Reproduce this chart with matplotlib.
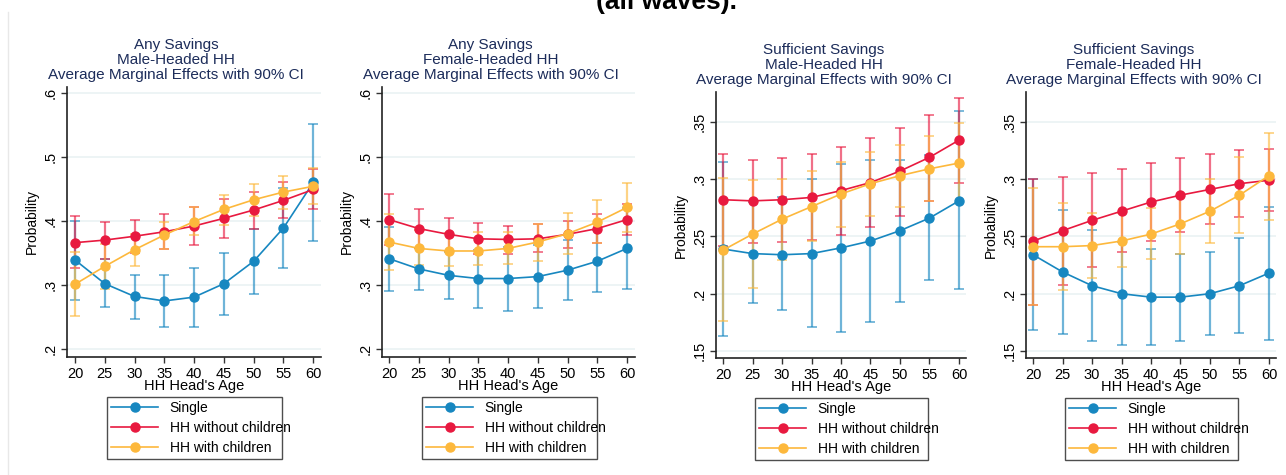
import matplotlib
matplotlib.use("Agg")
import matplotlib.pyplot as plt
from matplotlib.lines import Line2D

plt.rcParams['font.family'] = ['Liberation Sans', 'DejaVu Sans']

# x axis: age of the household head
ages = [20, 25, 30, 35, 40, 45, 50, 55, 60]
series_names = ["Single", "HH without children", "HH with children"]
colors = ["#1787c0", "#e8193f", "#fdb83c"]

# Any Savings, Male-Headed HH
am_single = [0.339, 0.302, 0.282, 0.275, 0.281, 0.302, 0.337, 0.389, 0.460]
am_single_lo = [0.277, 0.266, 0.247, 0.234, 0.235, 0.253, 0.286, 0.326, 0.369]
am_single_hi = [0.400, 0.340, 0.316, 0.316, 0.327, 0.350, 0.388, 0.452, 0.551]
am_nokids = [0.366, 0.370, 0.376, 0.383, 0.392, 0.404, 0.417, 0.432, 0.449]
am_nokids_lo = [0.327, 0.341, 0.350, 0.356, 0.363, 0.374, 0.388, 0.405, 0.419]
am_nokids_hi = [0.407, 0.399, 0.402, 0.411, 0.422, 0.434, 0.445, 0.460, 0.481]
am_kids = [0.301, 0.329, 0.355, 0.378, 0.399, 0.418, 0.433, 0.445, 0.454]
am_kids_lo = [0.251, 0.294, 0.330, 0.356, 0.378, 0.394, 0.408, 0.419, 0.426]
am_kids_hi = [0.351, 0.364, 0.379, 0.399, 0.422, 0.440, 0.457, 0.470, 0.483]

# Any Savings, Female-Headed HH
af_single = [0.341, 0.325, 0.315, 0.310, 0.310, 0.313, 0.323, 0.337, 0.357]
af_single_lo = [0.291, 0.292, 0.278, 0.264, 0.259, 0.264, 0.276, 0.289, 0.293]
af_single_hi = [0.390, 0.358, 0.352, 0.355, 0.360, 0.363, 0.370, 0.385, 0.420]
af_nokids = [0.402, 0.388, 0.379, 0.372, 0.371, 0.372, 0.379, 0.388, 0.402]
af_nokids_lo = [0.362, 0.357, 0.353, 0.349, 0.349, 0.351, 0.357, 0.366, 0.378]
af_nokids_hi = [0.442, 0.419, 0.404, 0.396, 0.392, 0.395, 0.400, 0.410, 0.426]
af_kids = [0.367, 0.357, 0.353, 0.353, 0.357, 0.367, 0.380, 0.398, 0.421]
af_kids_lo = [0.323, 0.331, 0.330, 0.331, 0.333, 0.337, 0.348, 0.366, 0.383]
af_kids_hi = [0.410, 0.385, 0.381, 0.383, 0.383, 0.395, 0.412, 0.433, 0.459]

# Sufficient Savings, Male-Headed HH
sm_single = [0.239, 0.235, 0.234, 0.235, 0.240, 0.246, 0.255, 0.266, 0.281]
sm_single_lo = [0.163, 0.192, 0.186, 0.171, 0.167, 0.175, 0.193, 0.212, 0.204]
sm_single_hi = [0.315, 0.280, 0.284, 0.300, 0.313, 0.317, 0.317, 0.321, 0.359]
sm_nokids = [0.282, 0.281, 0.282, 0.284, 0.290, 0.297, 0.307, 0.319, 0.334]
sm_nokids_lo = [0.242, 0.244, 0.245, 0.247, 0.251, 0.258, 0.268, 0.281, 0.297]
sm_nokids_hi = [0.322, 0.317, 0.318, 0.322, 0.328, 0.336, 0.345, 0.356, 0.371]
sm_kids = [0.238, 0.252, 0.265, 0.276, 0.287, 0.296, 0.303, 0.309, 0.314]
sm_kids_lo = [0.176, 0.205, 0.229, 0.246, 0.258, 0.268, 0.276, 0.281, 0.279]
sm_kids_hi = [0.301, 0.299, 0.300, 0.307, 0.315, 0.324, 0.330, 0.338, 0.349]

# Sufficient Savings, Female-Headed HH
sf_single = [0.234, 0.219, 0.207, 0.200, 0.197, 0.197, 0.200, 0.207, 0.218]
sf_single_lo = [0.168, 0.165, 0.159, 0.155, 0.155, 0.159, 0.164, 0.166, 0.160]
sf_single_hi = [0.300, 0.273, 0.256, 0.245, 0.239, 0.235, 0.236, 0.249, 0.276]
sf_nokids = [0.246, 0.255, 0.264, 0.272, 0.280, 0.286, 0.291, 0.296, 0.299]
sf_nokids_lo = [0.190, 0.208, 0.223, 0.236, 0.246, 0.254, 0.261, 0.267, 0.272]
sf_nokids_hi = [0.300, 0.302, 0.305, 0.309, 0.314, 0.318, 0.322, 0.325, 0.326]
sf_kids = [0.241, 0.241, 0.242, 0.246, 0.252, 0.261, 0.272, 0.286, 0.303]
sf_kids_lo = [0.190, 0.203, 0.214, 0.223, 0.230, 0.235, 0.244, 0.253, 0.264]
sf_kids_hi = [0.292, 0.279, 0.270, 0.270, 0.275, 0.285, 0.300, 0.319, 0.340]

titles = [
    "Any Savings\nMale-Headed HH\nAverage Marginal Effects with 90% CI",
    "Any Savings\nFemale-Headed HH\nAverage Marginal Effects with 90% CI",
    "Sufficient Savings\nMale-Headed HH\nAverage Marginal Effects with 90% CI",
    "Sufficient Savings\nFemale-Headed HH\nAverage Marginal Effects with 90% CI",
]
any_ticks = [0.2, 0.3, 0.4, 0.5, 0.6]
any_labels = [".2", ".3", ".4", ".5", ".6"]
suf_ticks = [0.15, 0.2, 0.25, 0.3, 0.35]
suf_labels = [".15", ".2", ".25", ".3", ".35"]

panels = [
    [(am_single, am_single_lo, am_single_hi), (am_nokids, am_nokids_lo, am_nokids_hi), (am_kids, am_kids_lo, am_kids_hi)],
    [(af_single, af_single_lo, af_single_hi), (af_nokids, af_nokids_lo, af_nokids_hi), (af_kids, af_kids_lo, af_kids_hi)],
    [(sm_single, sm_single_lo, sm_single_hi), (sm_nokids, sm_nokids_lo, sm_nokids_hi), (sm_kids, sm_kids_lo, sm_kids_hi)],
    [(sf_single, sf_single_lo, sf_single_hi), (sf_nokids, sf_nokids_lo, sf_nokids_hi), (sf_kids, sf_kids_lo, sf_kids_hi)],
]

W, H = 1286, 475
fig = plt.figure(figsize=(W / 100, H / 100), dpi=100)

# axes boxes in pixels: left, right, top, bottom
boxes = [(67, 321, 87, 357), (382, 635, 87, 357), (716, 966, 92, 358), (1026, 1276, 92, 358)]
xlims = [(18.66, 61.3), (18.82, 61.34), (18.81, 61.19), (18.81, 61.19)]
ylims = [(0.1875, 0.609), (0.1875, 0.609), (0.1439, 0.376), (0.1439, 0.376)]
# legend boxes in pixels: left, top, width, height
legend_boxes = [(107, 397, 175, 60), (422, 397, 175, 60), (755, 398, 173, 60), (1065, 398, 173, 60)]

title_color = "#1c2c5a"

for i, (l, r, t, b) in enumerate(boxes):
    ax = fig.add_axes([l / W, 1 - b / H, (r - l) / W, (b - t) / H])
    if i < 2:
        ticks, labels = any_ticks, any_labels
    else:
        ticks, labels = suf_ticks, suf_labels

    for tk in ticks:
        ax.axhline(tk, color="#eaf2f3", lw=1.2, zorder=0)

    handles = []
    for (vals, lo, hi), c, name in zip(panels[i], colors, series_names):
        err = [[v - a for v, a in zip(vals, lo)], [c2 - v for v, c2 in zip(vals, hi)]]
        ax.errorbar(ages, vals, yerr=err, fmt="none", ecolor=c, elinewidth=1.6,
                    capsize=3.5, capthick=1.3, alpha=0.62, zorder=2)
        h, = ax.plot(ages, vals, color=c, lw=1.2, marker="o", ms=6.5, mec=c, zorder=3, label=name)
        handles.append(h)

    ax.set_xlim(*xlims[i])
    ax.set_ylim(*ylims[i])
    ax.set_xticks(ages)
    ax.set_yticks(ticks)
    ax.set_yticklabels(labels, rotation=90, va="center")
    ax.tick_params(axis="both", labelsize=10.5, length=4, width=1, color="#333333", pad=3)
    for s in ["top", "right"]:
        ax.spines[s].set_visible(False)
    for s in ["left", "bottom"]:
        ax.spines[s].set_linewidth(1.2)
        ax.spines[s].set_color("#222222")
    ax.set_xlabel("HH Head's Age", fontsize=10.5, labelpad=-1)
    ax.set_ylabel("Probability", fontsize=10, labelpad=3)

    ax.text(0.43, 1.02, titles[i], transform=ax.transAxes, ha="center", va="bottom",
            fontsize=11, color=title_color, linespacing=1.08)

    lx, ly, lw_, lh = legend_boxes[i]
    leg = fig.legend(handles=handles, loc="upper left",
                     bbox_to_anchor=(lx / W, 1 - (ly + lh) / H, lw_ / W, lh / H),
                     mode="expand", fontsize=10, frameon=True, fancybox=False,
                     handlelength=3.4, borderpad=0.3, labelspacing=0.42,
                     handletextpad=0.8, borderaxespad=0)
    leg.get_frame().set_edgecolor("#222222")
    leg.get_frame().set_linewidth(1.0)

# page border on the left and the cut-off heading at the top
fig.add_artist(Line2D([8 / W, 8 / W], [0, 1 - 12 / H], color="#e8e8e8", lw=1))
fig.text(666 / W, 1 - 2 / H, "(all waves).", ha="center", va="center",
         fontsize=19, fontweight="bold", color="black")

fig.savefig("out.png", dpi=100)
